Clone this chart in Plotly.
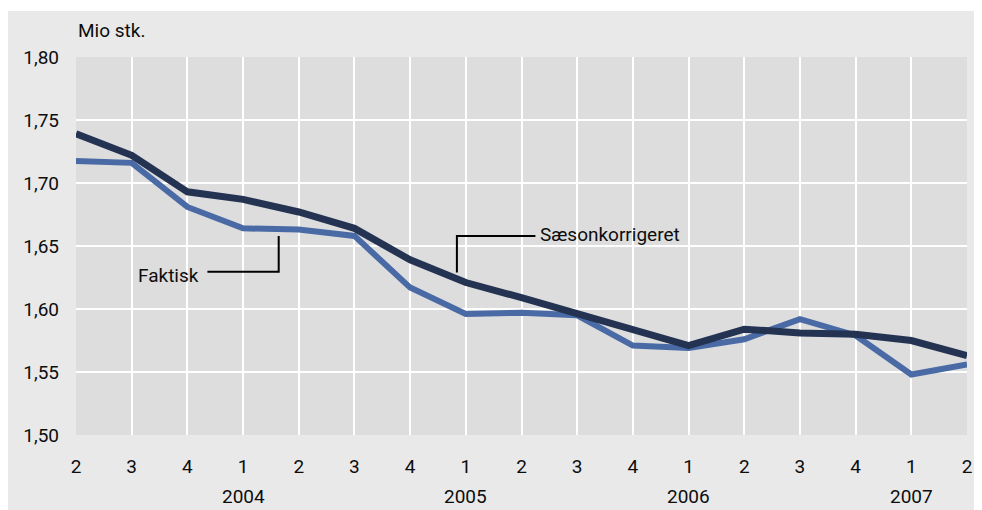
import plotly.graph_objects as go

quarters = ["2", "3", "4", "1", "2", "3", "4", "1", "2", "3", "4", "1", "2", "3", "4", "1", "2"]
years = ["2004", "2005", "2006", "2007"]
year_pos = [3, 7, 11, 15]
saeson = [1.739, 1.722, 1.693, 1.687, 1.677, 1.664, 1.639, 1.621, 1.609, 1.596,
          1.583, 1.571, 1.584, 1.581, 1.580, 1.575, 1.563]
faktisk = [1.7175, 1.716, 1.681, 1.664, 1.663, 1.658, 1.617, 1.596, 1.597, 1.595,
           1.571, 1.569, 1.576, 1.592, 1.579, 1.548, 1.556]
yticks = [1.50, 1.55, 1.60, 1.65, 1.70, 1.75, 1.80]
ytext = ["1,50", "1,55", "1,60", "1,65", "1,70", "1,75", "1,80"]

x = list(range(len(quarters)))
FONT = "Roboto"
FS = 19
TXT = "#0d0d0d"

fig = go.Figure()
fig.add_trace(go.Scatter(x=x, y=faktisk, mode="lines", name="Faktisk",
                         line=dict(color="#4a6aa5", width=6)))
fig.add_trace(go.Scatter(x=x, y=saeson, mode="lines", name="Sæsonkorrigeret",
                         line=dict(color="#243352", width=7)))

# leader lines
fig.add_shape(type="path", xref="x", yref="y",
              path="M 2.36 1.6295 L 3.64 1.6295 L 3.64 1.658",
              line=dict(color="black", width=2))
fig.add_shape(type="path", xref="x", yref="y",
              path="M 6.84 1.629 L 6.84 1.658 L 8.25 1.658",
              line=dict(color="black", width=2))

fig.add_annotation(x=2.24, y=1.6265, xref="x", yref="y", text="Faktisk",
                   showarrow=False, xanchor="right", yanchor="middle",
                   font=dict(family=FONT, size=FS, color=TXT))
fig.add_annotation(x=8.29, y=1.659, xref="x", yref="y", text="Sæsonkorrigeret",
                   showarrow=False, xanchor="left", yanchor="middle",
                   font=dict(family=FONT, size=FS, color=TXT))

for yr, p in zip(years, year_pos):
    fig.add_annotation(x=p, y=-0.164, xref="x", yref="paper", text=yr,
                       showarrow=False, xanchor="center", yanchor="middle",
                       font=dict(family=FONT, size=FS, color=TXT))

fig.add_annotation(x=0.0, y=1.069, xref="paper", yref="paper", text="Mio stk.",
                   showarrow=False, xanchor="left", yanchor="middle",
                   font=dict(family=FONT, size=FS, color=TXT))

# thin white strip at top edge
fig.add_shape(type="rect", xref="paper", yref="paper", x0=-0.2, x1=1.1,
              y0=1.1217, y1=1.3, fillcolor="white", line=dict(width=0), layer="above")

fig.update_layout(
    width=974, height=502,
    margin=dict(l=68, r=10, t=49, b=75),
    paper_bgcolor="#e9e9e9", plot_bgcolor="#dddddd",
    showlegend=False,
    font=dict(family=FONT, size=FS, color=TXT),
)
fig.update_xaxes(range=[0, 16], tickvals=x, ticktext=quarters,
                 showgrid=True, gridcolor="white", gridwidth=1.5,
                 zeroline=False, showline=False, ticks="", ticklabelstandoff=18,
                 tickfont=dict(family=FONT, size=FS, color=TXT), fixedrange=True)
fig.update_yaxes(range=[1.50, 1.80], tickvals=yticks, ticktext=ytext,
                 showgrid=True, gridcolor="white", gridwidth=1.5,
                 zeroline=False, showline=False, ticks="", ticklabelstandoff=16,
                 tickfont=dict(family=FONT, size=FS, color=TXT), fixedrange=True)

fig.write_html("out.html")
